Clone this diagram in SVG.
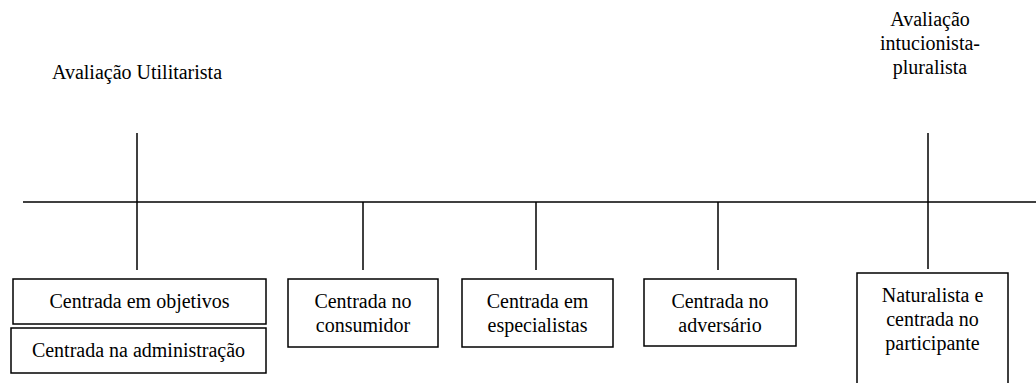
<svg xmlns="http://www.w3.org/2000/svg" width="1036" height="383" viewBox="0 0 1036 383" font-family="'Liberation Serif', 'Times New Roman', serif">
<style>
text{font-family:'Liberation Serif','Times New Roman',serif;font-size:20px;fill:#000;text-anchor:middle}
.box{fill:#fff;stroke:#000;stroke-width:1.5}
.ln{stroke:#000;stroke-width:1.5;fill:none}
</style>
<rect width="1036" height="383" fill="#fff"/>
<g id="connectors">
<line class="ln" x1="23" y1="202" x2="1036" y2="202"/>
<line class="ln" x1="137" y1="133" x2="137" y2="270"/>
<line class="ln" x1="363" y1="202" x2="363" y2="270"/>
<line class="ln" x1="536" y1="202" x2="536" y2="270"/>
<line class="ln" x1="718" y1="202" x2="718" y2="270"/>
<line class="ln" x1="928" y1="133" x2="928" y2="269"/>
</g>
<g id="label-utilitarista"><text x="137" y="79">Avaliação Utilitarista</text></g>
<g id="label-pluralista">
<text x="930" y="26">Avaliação</text>
<text x="930" y="50">intucionista-</text>
<text x="930" y="74">pluralista</text>
</g>
<g id="node-objetivos"><rect class="box" x="13" y="279" width="253" height="45"/><text x="139.5" y="308">Centrada em objetivos</text></g>
<g id="node-administracao"><rect class="box" x="11" y="328" width="255" height="45"/><text x="138.5" y="357">Centrada na administração</text></g>
<g id="node-consumidor"><rect class="box" x="288" y="279" width="150" height="68"/><text x="363" y="308">Centrada no</text><text x="363" y="332">consumidor</text></g>
<g id="node-especialistas"><rect class="box" x="462" y="279" width="151" height="68"/><text x="537.5" y="308">Centrada em</text><text x="537.5" y="332">especialistas</text></g>
<g id="node-adversario"><rect class="box" x="644" y="279" width="152" height="67"/><text x="720" y="308">Centrada no</text><text x="720" y="332">adversário</text></g>
<g id="node-naturalista"><path class="box" d="M857,390 V273 H1008 V390"/><text x="932.5" y="302">Naturalista e</text><text x="932.5" y="326">centrada no</text><text x="932.5" y="350">participante</text></g>
</svg>
